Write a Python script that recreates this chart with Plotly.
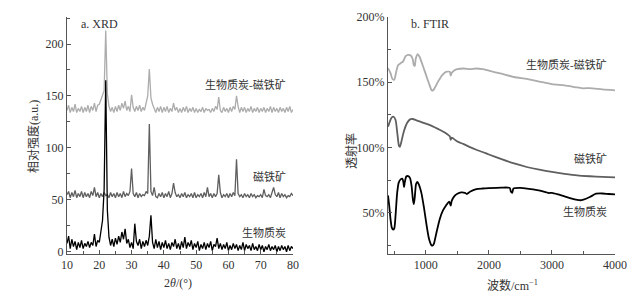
import numpy as np
import plotly.graph_objects as go

# ---------------- XRD data (2θ from 10 to 80, step 0.5) ----------------
xrd_start, xrd_step = 10.0, 0.5
xrd_biochar = [
    8, 15, 3, 12, 5, 10, 2, 9, 4, 11,
    3, 8, 5, 10, 4, 9, 6, 17, 5, 11,
    9, 22, 30, 60, 165, 40, 14, 6, 12, 5,
    13, 7, 15, 9, 19, 12, 22, 8, 12, 4,
    9, 3, 27, 10, 6, 12, 3, 10, 5, 11,
    6, 15, 35, 9, 3, 12, 4, 10, 2, 9,
    4, 11, 3, 8, 2, 9, 5, 12, 3, 8,
    2, 10, 4, 14, 3, 9, 5, 11, 2, 8,
    4, 10, 1, 7, 3, 9, 2, 8, 4, 10,
    1, 7, 5, 13, 3, 8, 2, 7, 3, 9,
    1, 6, 2, 8, 3, 7, 1, 6, 2, 9,
    1, 7, 3, 6, 1, 8, 2, 5, 1, 7,
    2, 6, 0, 5, 2, 7, 1, 5, 2, 6,
    0, 5, 1, 6, 2, 5, 0, 6, 1, 5,
    3,
]
xrd_magnetite = [
    55, 58, 52, 57, 53, 59, 52, 56, 53, 58,
    52, 57, 53, 56, 52, 58, 54, 62, 53, 57,
    52, 56, 53, 57, 54, 55, 52, 57, 53, 56,
    52, 57, 53, 56, 52, 58, 53, 56, 54, 58,
    80, 56, 53, 57, 52, 56, 53, 55, 54, 58,
    56, 123, 58, 54, 62, 53, 52, 56, 53, 57,
    52, 56, 53, 58, 52, 56, 66, 57, 53, 55,
    52, 56, 53, 57, 52, 55, 53, 56, 52, 57,
    52, 55, 53, 56, 52, 57, 53, 62, 53, 56,
    52, 56, 53, 56, 74, 57, 52, 55, 53, 56,
    52, 56, 53, 57, 54, 89, 56, 53, 55, 52,
    56, 53, 55, 52, 56, 53, 55, 52, 54, 53,
    55, 52, 60, 54, 53, 55, 52, 56, 62, 55,
    53, 57, 52, 56, 53, 55, 52, 54, 53, 56,
    54,
]
xrd_composite = [
    136, 141, 134, 139, 135, 142, 134, 138, 135, 140,
    134, 139, 135, 141, 134, 140, 136, 143, 135, 141,
    142, 147, 150, 155, 213, 152, 140, 135, 139, 134,
    140, 135, 141, 136, 143, 138, 145, 136, 140, 135,
    151, 139, 135, 140, 136, 141, 135, 139, 136, 142,
    150, 176, 148, 142, 138, 134, 139, 135, 140, 134,
    139, 135, 140, 134, 138, 135, 143, 136, 139, 134,
    138, 134, 139, 135, 140, 134, 138, 135, 139, 134,
    138, 134, 137, 135, 139, 134, 138, 136, 137, 134,
    138, 135, 140, 137, 149, 136, 134, 139, 135, 138,
    134, 139, 135, 140, 137, 150, 140, 134, 139, 135,
    139, 134, 138, 135, 140, 134, 138, 135, 139, 134,
    138, 135, 139, 134, 138, 135, 140, 134, 139, 135,
    138, 134, 139, 135, 138, 134, 139, 135, 140, 134,
    137,
]
xrd_x = [xrd_start + xrd_step * i for i in range(len(xrd_biochar))]
xrd_ticks = [10, 20, 30, 40, 50, 60, 70, 80]
xrd_yticks = [0, 50, 100, 150, 200]

# ---------------- FTIR data ----------------
ftir_comp_wn = [400, 440, 470, 500, 530, 560, 600, 640, 680, 720, 760, 790, 810, 825, 840,
                870, 900, 950, 1000, 1050, 1090, 1110, 1140, 1200, 1260, 1320, 1380, 1395,
                1410, 1450, 1500, 1600, 1700, 1800, 1900, 2000, 2200, 2400, 2600, 2800,
                3000, 3200, 3400, 3500, 3600, 3800, 4000]
ftir_comp_val = [160.8, 157, 152.5, 152, 158, 163, 164.5, 166, 170, 171, 170.5, 168, 163,
                 162.5, 168, 171.5, 169.5, 163, 156, 149, 144, 143.5, 145.5, 151, 155.5,
                 158, 158, 155, 157, 159, 160, 160.5, 160, 160.5, 160, 158.8, 156.5, 154,
                 152.5, 150.5, 148.5, 147.5, 146, 145.3, 145.5, 144.5, 143.8]

ftir_mag_wn = [400, 430, 460, 490, 520, 550, 575, 590, 610, 650, 700, 750, 790, 850, 900,
               1000, 1100, 1200, 1300, 1380, 1395, 1410, 1500, 1600, 1700, 1800, 1900,
               2000, 2200, 2400, 2600, 2800, 3000, 3200, 3400, 3600, 3800, 4000]
ftir_mag_val = [115.8, 120, 123, 123.5, 121, 110, 101, 100.5, 104, 112, 118.5, 121.5,
                121.8, 120.8, 120, 118.2, 116.3, 114, 111.5, 108.5, 105.8, 107.5, 104.5,
                102.5, 100.2, 98.2, 96.5, 94.6, 91, 87.7, 85, 82.9, 81.2, 79.8, 78.6,
                77.9, 77.4, 77]

ftir_bio_wn = [400, 420, 440, 460, 480, 500, 520, 545, 570, 600, 630, 645, 655, 665, 690,
               720, 750, 775, 795, 810, 825, 845, 865, 890, 930, 970, 1010, 1050, 1090,
               1110, 1130, 1170, 1220, 1270, 1320, 1370, 1395, 1410, 1450, 1500, 1560,
               1620, 1650, 1700, 1800, 1900, 2000, 2200, 2330, 2350, 2370, 2390, 2500,
               2700, 2900, 2950, 3000, 3100, 3200, 3300, 3400, 3450, 3500, 3600, 3700,
               3800, 3900, 4000]
ftir_bio_val = [63.2, 55, 45, 38.5, 37, 38, 48, 65, 73, 75.5, 76, 73, 69.5, 73, 77.7, 78,
                76.5, 70, 60, 56.5, 62, 72, 73.5, 71.5, 65, 54, 41, 30, 25, 24.8, 26.5,
                35, 45, 51.5, 55.5, 58.5, 55.5, 59, 62.5, 64.5, 65.5, 65.2, 64.3, 66, 68,
                68.5, 68.8, 69.2, 69, 66, 65.2, 68.5, 69, 67.8, 65.8, 65, 65.2, 64, 62.5,
                61, 59.8, 59.5, 60, 62, 64.5, 64.7, 64.3, 64]
ftir_xticks = [1000, 2000, 3000, 4000]
ftir_yticks = [50, 100, 150, 200]
ftir_ytext = ["50%", "100%", "150%", "200%"]

# ---------------- styling ----------------
FONT = "Liberation Serif, Times New Roman, Noto Sans CJK SC, serif"
TXT = "#333333"
C_COMP = "#acacac"
C_MAG = "#5f5f5f"
C_BIO = "#000000"
W, H = 634, 300

fig = go.Figure()
fig.add_trace(go.Scatter(x=xrd_x, y=xrd_composite, mode="lines",
                         line=dict(color=C_COMP, width=1.3), xaxis="x", yaxis="y"))
fig.add_trace(go.Scatter(x=xrd_x, y=xrd_magnetite, mode="lines",
                         line=dict(color=C_MAG, width=1.3), xaxis="x", yaxis="y"))
fig.add_trace(go.Scatter(x=xrd_x, y=xrd_biochar, mode="lines",
                         line=dict(color=C_BIO, width=1.3), xaxis="x", yaxis="y"))

fig.add_trace(go.Scatter(x=ftir_comp_wn, y=ftir_comp_val, mode="lines",
                         line=dict(color=C_COMP, width=1.8, shape="spline", smoothing=0.6),
                         xaxis="x2", yaxis="y2"))
fig.add_trace(go.Scatter(x=ftir_mag_wn, y=ftir_mag_val, mode="lines",
                         line=dict(color=C_MAG, width=1.8, shape="spline", smoothing=0.6),
                         xaxis="x2", yaxis="y2"))
fig.add_trace(go.Scatter(x=ftir_bio_wn, y=ftir_bio_val, mode="lines",
                         line=dict(color=C_BIO, width=1.8, shape="spline", smoothing=0.6),
                         xaxis="x2", yaxis="y2"))

ydom = [1 - 254 / H, 1 - 17 / H]
axis_common = dict(showline=True, linecolor="#555555", linewidth=1, ticks="inside",
                   ticklen=4, tickcolor="#555555", showgrid=False, zeroline=False,
                   automargin=False,
                   tickfont=dict(family=FONT, size=12, color=TXT))
minor_common = dict(ticks="inside", ticklen=3, tickcolor="#555555", showgrid=False)

fig.update_layout(
    width=W, height=H,
    margin=dict(l=0, r=0, t=0, b=0, autoexpand=False),
    paper_bgcolor="white", plot_bgcolor="white",
    showlegend=False,
    xaxis=dict(domain=[67 / W, 293 / W], range=[10, 80], tickvals=xrd_ticks,
               minor=dict(dtick=5, **minor_common), anchor="y", **axis_common),
    yaxis=dict(domain=ydom, range=[-2.2, 226], tickvals=xrd_yticks,
               minor=dict(dtick=25, **minor_common), anchor="x", **axis_common),
    xaxis2=dict(domain=[388 / W, 615 / W], range=[400, 4000], tickvals=ftir_xticks,
                minor=dict(dtick=500, **minor_common), anchor="y2", **axis_common),
    yaxis2=dict(domain=ydom, range=[18.3, 200], tickvals=ftir_yticks, ticktext=ftir_ytext,
                minor=dict(dtick=25, **minor_common), anchor="x2", **axis_common),
)

def ann(text, x, y, xanchor="center", angle=0, size=12):
    fig.add_annotation(text=text, x=x / W, y=1 - y / H, xref="paper", yref="paper",
                       xanchor=xanchor, yanchor="middle", showarrow=False, textangle=angle,
                       font=dict(family=FONT, size=size, color=TXT))

ann("a. XRD", 79, 24, "left")
ann("生物质炭-磁铁矿", 288, 84, "right", size=11)
ann("磁铁矿", 288, 177, "right", size=11)
ann("生物质炭", 288, 233, "right", size=11)
ann("相对强度(a.u.)", 33, 137, angle=-90)
ann("2<i>θ</i>/(°)", 178, 283)

ann("b. FTIR", 409, 24, "left")
ann("生物质炭-磁铁矿", 609, 64, "right", size=11)
ann("磁铁矿", 609, 159, "right", size=11)
ann("生物质炭", 609, 211, "right", size=11)
ann("透射率", 351, 151, angle=-90)
ann("波数/cm<sup>−1</sup>", 512, 285)

fig.write_html("out.html",
               config={"displayModeBar": False, "staticPlot": True},
               post_script="document.body.style.margin='0';document.body.style.overflow='hidden';")
